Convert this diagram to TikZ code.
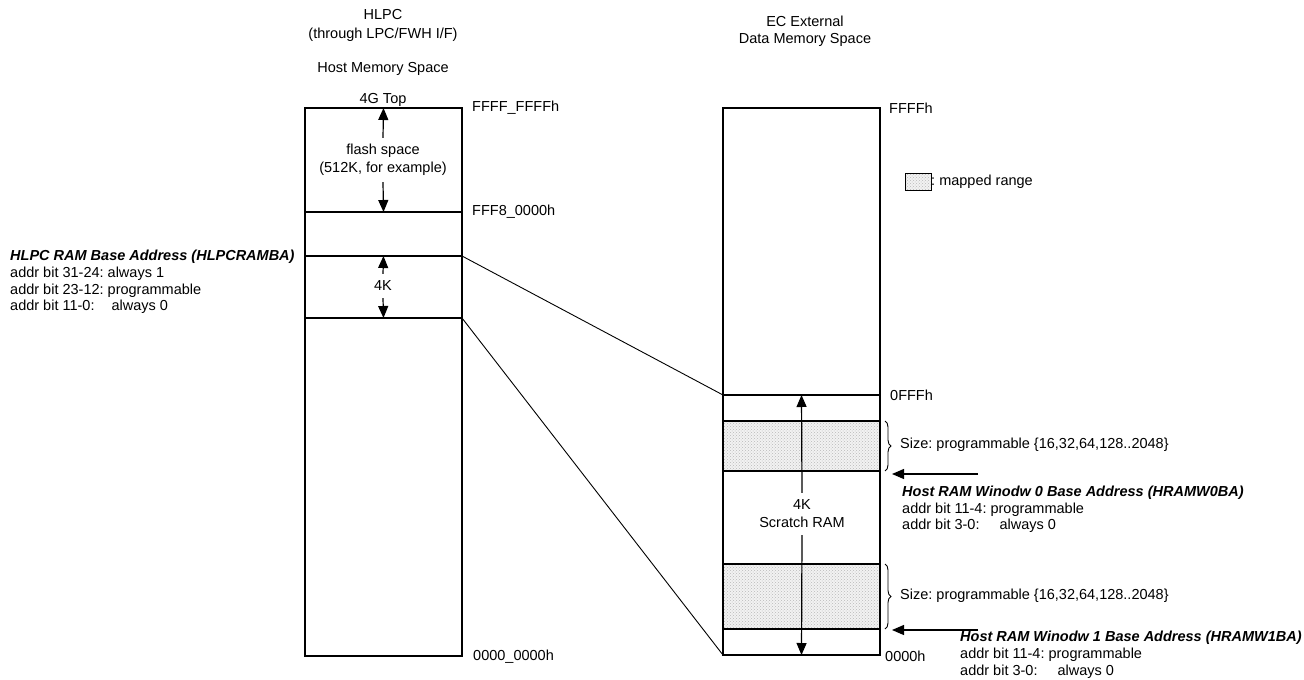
\documentclass[tikz,border=0pt]{standalone}
\usepackage{fontspec}
\setmainfont{Liberation Sans}
\usetikzlibrary{arrows.meta,patterns,decorations.pathreplacing}
\begin{document}
\frenchspacing
\begin{tikzpicture}[x=1pt,y=-1pt,
  font=\fontsize{14.5}{18}\selectfont,
  region/.style={draw, line width=1.1pt, inner sep=0pt, outer sep=0pt, minimum width=157pt},
  mapped/.style={region, preaction={fill=gray!10}, pattern=crosshatch dots, pattern color=gray!55},
  lbl/.style={anchor=west, inner sep=0pt},
  hd/.style={align=center, inner sep=0pt},
  bt/.style={lbl, font=\fontsize{14.5}{18}\selectfont\bfseries\itshape},
  arr/.style={line width=1.2pt, -{Triangle[length=12pt,width=10pt]}},
  link/.style={line width=0.9pt},
  brc/.style={line width=0.9pt, decorate, decoration={brace, amplitude=6pt}}
]
\useasboundingbox (0,0) rectangle (1304,680);

% headers
\node[hd] (h1) at (383,15) {HLPC};
\node[hd] (h2) at (383,35) {(through LPC/FWH I/F)};
\node[hd] (h3) at (383,69) {Host Memory Space};
\node[hd] (e1) at (805,21) {EC External};
\node[hd] (e2) at (805,40) {Data Memory Space};

% left column
\node[region, minimum height=104pt] (flash) at (383.5,160) {};
\node[region, minimum height=44pt]  (gapr)  at (383.5,234) {};
\node[region, minimum height=62pt]  (ram)   at (383.5,287) {};
\node[region, minimum height=338pt] (low)   at (383.5,487) {};

\node[hd] (top) at (383,100) {4G Top};
\node[hd, minimum height=44pt] (fl) at (383,160) {flash space\\(512K, for example)};
\draw[arr] (fl.north) -- (flash.north);
\draw[arr] (fl.south) -- (flash.south);
\node[hd, minimum height=24pt] (k4) at (383,286) {4K};
\draw[arr] (k4.north) -- (ram.north);
\draw[arr] (k4.south) -- (ram.south);

\node[lbl] (a1) at (472,108) {FFFF\_FFFFh};
\node[lbl] (a2) at (472,212) {FFF8\_0000h};
\node[lbl] (a3) at (473,657) {0000\_0000h};

\node[bt] (l0) at (10,257) {HLPC RAM Base Address (HLPCRAMBA)};
\node[lbl] (l1) at (10,274) {addr bit 31-24: always 1};
\node[lbl] (l2) at (10,290.5) {addr bit 23-12: programmable};
\node[lbl] (l3) at (10,307) {addr bit 11-0:\hspace{17pt}always 0};

% right column
\node[region, minimum height=287pt] (ecup) at (801.5,251.5) {};
\node[mapped, minimum height=50pt] (m0) at (801.5,446) {};
\node[mapped, minimum height=65pt] (m1) at (801.5,596.5) {};
\node[region, minimum height=260pt] (scratch) at (801.5,525) {};

\node[hd, minimum height=42pt] (sr) at (802,514) {4K\\Scratch RAM};
\draw[arr] (sr.north) -- (scratch.north);
\draw[arr] (sr.south) -- (scratch.south);

\node[lbl] (b1) at (889,108) {FFFFh};
\node[lbl] (b2) at (890,395) {0FFFh};
\node[lbl] (b3) at (885,656) {0000h};

% legend
\node[mapped, minimum width=26pt, minimum height=17pt, line width=0.8pt] (leg) at (918,181.5) {};
\node[lbl] (legt) at (leg.east) {: mapped range};

% links
\draw[link] (ram.north east) -- (scratch.north west);
\draw[link] (ram.south east) -- (scratch.south west);

% braces
\coordinate (br0a) at (885,421);
\coordinate (br0b) at (885,471);
\draw[brc] (br0a) -- (br0b);
\node[lbl] (s0) at (900,445) {Size: programmable \{16,32,64,128..2048\}};
\coordinate (br1a) at (885,564);
\coordinate (br1b) at (885,629);
\draw[brc] (br1a) -- (br1b);
\node[lbl] (s1) at (900,596) {Size: programmable \{16,32,64,128..2048\}};

% window base arrows
\coordinate (w0s) at (978,474);
\coordinate (w0e) at (892,474);
\draw[arr] (w0s) -- (w0e);
\coordinate (w1s) at (978,630);
\coordinate (w1e) at (892,630);
\draw[arr] (w1s) -- (w1e);

\node[bt] (w00) at (902,493) {Host RAM Winodw 0 Base Address (HRAMW0BA)};
\node[lbl] (w01) at (902,509.5) {addr bit 11-4: programmable};
\node[lbl] (w02) at (902,526) {addr bit 3-0:\hspace{20pt}always 0};

\node[bt] (w10) at (960,638) {Host RAM Winodw 1 Base Address (HRAMW1BA)};
\node[lbl] (w11) at (960,655) {addr bit 11-4: programmable};
\node[lbl] (w12) at (960,672) {addr bit 3-0:\hspace{20pt}always 0};
\end{tikzpicture}
\end{document}
